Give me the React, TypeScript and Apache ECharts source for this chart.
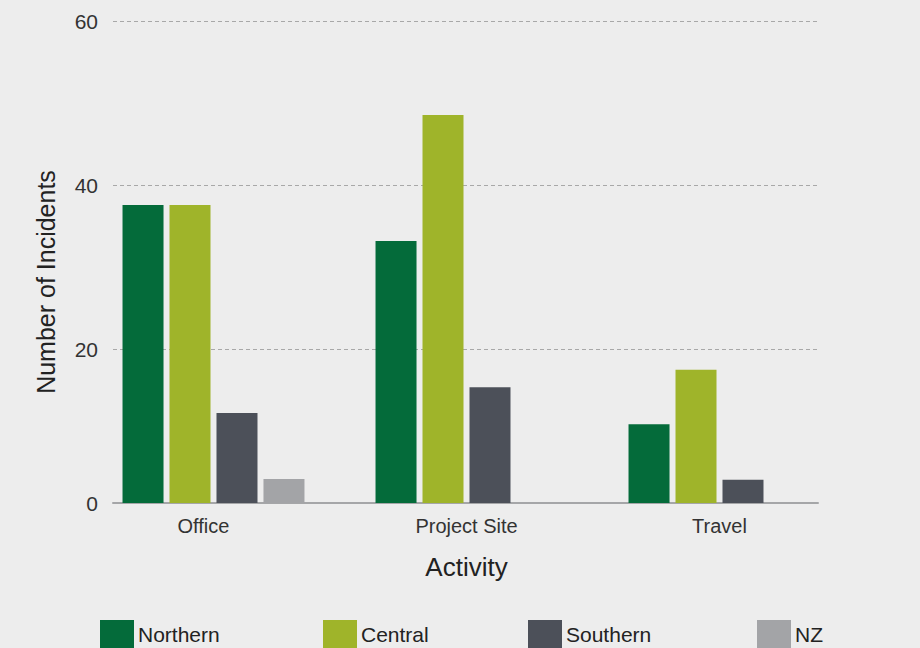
import React, { useEffect, useRef } from "react";
import * as echarts from "echarts";

const categories = ["Office", "Project Site", "Travel"];
const seriesNames = ["Northern", "Central", "Southern", "NZ"];
const northern = [37.1, 32.6, 9.8];
const central = [37.1, 48.3, 16.6];
const southern = [11.2, 14.4, 2.9];
const nz: (number | null)[] = [3.0, null, null];
const yTicks = [0, 20, 40, 60];

const colors = ["#046b3a", "#9fb42a", "#4c5059", "#a3a4a7"];
const FONT = "'Liberation Sans', Arial, Helvetica, sans-serif";

export default function App() {
  const ref = useRef<HTMLDivElement>(null);
  useEffect(() => {
    if (!ref.current) return;
    const chart = echarts.init(ref.current, undefined, { renderer: "svg" });
    const values = [northern, central, southern, nz];
    const legendLefts = [100, 323, 528, 757];
    const yMin = yTicks[0];
    const yMax = yTicks[yTicks.length - 1];
    chart.setOption({
      animation: false,
      backgroundColor: "#ededed",
      textStyle: { fontFamily: FONT },
      grid: [
        { left: 87, right: 74, top: 21, bottom: 145, containLabel: false },
        { left: 113, right: 102, top: 21, bottom: 135, containLabel: false },
        { left: 113, right: 102, top: 21, bottom: 145, containLabel: false },
      ],
      legend: seriesNames.map((n, i) => ({
        data: [n],
        left: legendLefts[i],
        top: 620,
        itemWidth: 34,
        itemHeight: 28,
        icon: "rect",
        padding: 0,
        textStyle: { fontSize: 21, color: "#222", fontFamily: FONT, padding: [0, 0, 2, -1] },
        selectedMode: false,
      })),
      xAxis: [
        {
          type: "category",
          gridIndex: 0,
          data: categories,
          axisLine: { show: false },
          axisTick: { show: false },
          axisLabel: {
            fontSize: 20,
            color: "#333",
            margin: 13,
            fontFamily: FONT,
            formatter: (v: string) => (v === "Office" ? "{off|" + v + "}" : v),
            rich: { off: { fontSize: 20, color: "#333", fontFamily: FONT, padding: [0, 20, 0, 0] } },
          },
          name: "Activity",
          nameLocation: "middle",
          nameGap: 51,
          nameTextStyle: { fontSize: 26, color: "#222", fontFamily: FONT },
        },
        {
          type: "category",
          gridIndex: 1,
          data: categories,
          show: false,
        },
        {
          type: "category",
          gridIndex: 2,
          data: categories,
          axisLine: { show: true, lineStyle: { color: "#a5a6a8", width: 2 } },
          axisTick: { show: false },
          axisLabel: { show: false },
        },
      ],
      yAxis: [
        {
          type: "value",
          gridIndex: 0,
          min: yMin,
          max: yMax,
          interval: 20,
          show: false,
          splitLine: { show: false },
        },
        {
          type: "value",
          gridIndex: 1,
          min: yMin,
          max: yMax,
          interval: 20,
          axisLine: { show: false },
          axisTick: { show: false },
          axisLabel: { fontSize: 21, color: "#333", margin: 15, fontFamily: FONT, showMinLabel: false },
          splitLine: {
            show: true,
            showMinLine: false,
            lineStyle: { color: "#a8a8a8", type: [4, 3], width: 1 },
          },
        },
        {
          type: "value",
          gridIndex: 2,
          min: yMin,
          max: yMax,
          interval: 60,
          axisLine: { show: false },
          axisTick: { show: false },
          splitLine: { show: false },
          axisLabel: {
            fontSize: 21,
            color: "#333",
            margin: 15,
            fontFamily: FONT,
            showMaxLabel: false,
            padding: [8, 0, 0, 0],
          },
        },
      ],
      graphic: [
        {
          type: "text",
          x: 46,
          y: 282,
          rotation: Math.PI / 2,
          style: {
            text: "Number of Incidents",
            fontSize: 25,
            fill: "#222",
            fontFamily: FONT,
            align: "center",
            verticalAlign: "middle",
          },
        },
      ],
      series: seriesNames.map((n, i) => ({
        name: n,
        type: "bar",
        xAxisIndex: 0,
        yAxisIndex: 0,
        data: values[i],
        barWidth: 41,
        barGap: "14.6%",
        itemStyle: { color: colors[i] },
        z: 3,
      })),
    });
    return () => chart.dispose();
  }, []);
  return <div ref={ref} style={{ width: 920, height: 648, position: "absolute", left: 0, top: 0 }} />;
}
